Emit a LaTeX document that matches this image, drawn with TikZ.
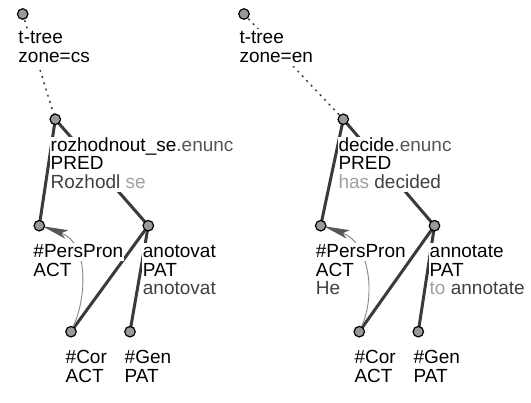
\documentclass[tikz,border=0pt]{standalone}
\usepackage{fontspec}
\setmainfont{Liberation Sans}
\usetikzlibrary{calc}

\definecolor{nodefill}{HTML}{999999}
\definecolor{edgecol}{HTML}{3A3A3A}
\definecolor{corefline}{HTML}{858585}
\definecolor{coreftip}{HTML}{555555}
\definecolor{enuncol}{HTML}{555555}
\definecolor{formcol}{HTML}{404040}
\definecolor{auxcol}{HTML}{A0A0A0}

\pgfdeclarelayer{background}
\pgfsetlayers{background,main}

\setlength{\fboxsep}{0pt}
% one label line on its own white backing box
\newcommand\tline[1]{\hbox{\colorbox{white}{\rule[-3.3pt]{0pt}{18.3pt}\hspace{1pt}#1\hspace{1pt}}}}
% a stack of label lines, baseline at the first line
\newcommand\tstack[1]{\vtop{\baselineskip=18.3pt\lineskip=0pt\lineskiplimit=-20pt #1}}

\begin{document}
\begin{tikzpicture}[x=1pt,y=-1pt,
  tnode/.style={circle,draw=black,fill=nodefill,line width=1.2pt,minimum size=10.5pt,inner sep=0pt},
  edge/.style={draw=edgecol,line width=3pt},
  rootedge/.style={draw=edgecol,line width=1.4pt,dash pattern=on 2pt off 4.5pt},
  coref/.style={draw=corefline,line width=0.9pt},
  coreftipshape/.style={fill=coreftip},
  lbl/.style={anchor=base west,inner sep=0pt,font=\fontsize{19}{18.3}\selectfont}]
\begin{pgfonlayer}{background}
\useasboundingbox[fill=white] (0,0) rectangle (531,403);
\end{pgfonlayer}

% ---- Czech tree: nodes
\node[tnode] (L0) at (22.7,14) {};
\node[tnode] (LP) at (55.3,119.3) {};
\node[tnode] (LA) at (39.3,225.7) {};
\node[tnode] (LB) at (148.3,225.7) {};
\node[tnode] (LC) at (71,331.7) {};
\node[tnode] (LG) at (130,331.7) {};

% ---- English tree: nodes
\node[tnode] (R0) at (244,14) {};
\node[tnode] (RP) at (343.3,119.3) {};
\node[tnode] (RA) at (320.7,225.7) {};
\node[tnode] (RB) at (434.5,225.7) {};
\node[tnode] (RC) at (359.3,331.7) {};
\node[tnode] (RG) at (418.3,331.7) {};

\begin{pgfonlayer}{background}
% ---- edges
\draw[rootedge] (L0.center) -- (LP.center);
\draw[edge] (LP.center) -- (LA.center);
\draw[edge] (LP.center) -- (LB.center);
\draw[edge] (LB.center) -- (LC.center);
\draw[edge] (LB.center) -- (LG.center);

\draw[rootedge] (R0.center) -- (RP.center);
\draw[edge] (RP.center) -- (RA.center);
\draw[edge] (RP.center) -- (RB.center);
\draw[edge] (RB.center) -- (RC.center);
\draw[edge] (RB.center) -- (RG.center);

% ---- coreference arrows: thin curve ending in a long wedge at the antecedent
\coordinate (LAn) at ($(LA)+(22,7.5)$);
\draw[coref] (LC) .. controls ($(LC)+(17,-38)$) and ($(LAn)+(26,9)$) .. (LAn);
\fill[coreftipshape] ($(LA)+(3,0.5)$) -- ($(LA)+(29,4.5)$) -- (LAn) -- ($(LA)+(26,13)$) -- cycle;

\coordinate (RAn) at ($(RA)+(22,7.5)$);
\draw[coref] (RC) .. controls ($(RC)+(17,-38)$) and ($(RAn)+(26,9)$) .. (RAn);
\fill[coreftipshape] ($(RA)+(3,0.5)$) -- ($(RA)+(29,4.5)$) -- (RAn) -- ($(RA)+(26,13)$) -- cycle;

% ---- labels, Czech tree
\node[lbl] (tL0) at (17.3,44) {\tstack{\tline{t-tree}\tline{zone=cs}}};
\node[lbl] (tLP) at (49.5,151.7) {\tstack{\tline{rozhodnout\_se\textcolor{enuncol}{.enunc}}\tline{PRED}\tline{\textcolor{formcol}{Rozhodl} \textcolor{auxcol}{se}}}};
\node[lbl] (tLA) at (32.3,258) {\tstack{\tline{\#PersPron}\tline{ACT}}};
\node[lbl] (tLB) at (141.7,258) {\tstack{\tline{anotovat}\tline{PAT}\tline{\textcolor{formcol}{anotovat}}}};
\node[lbl] (tLC) at (64.5,364) {\tstack{\tline{\#Cor}\tline{ACT}}};
\node[lbl] (tLG) at (123.5,364) {\tstack{\tline{\#Gen}\tline{PAT}}};

% ---- labels, English tree
\node[lbl] (tR0) at (238.3,44) {\tstack{\tline{t-tree}\tline{zone=en}}};
\node[lbl] (tRP) at (337.3,151.7) {\tstack{\tline{decide\textcolor{enuncol}{.enunc}}\tline{PRED}\tline{\textcolor{auxcol}{has} \textcolor{formcol}{decided}}}};
\node[lbl] (tRA) at (314.7,258) {\tstack{\tline{\#PersPron}\tline{ACT}\tline{\textcolor{formcol}{He}}}};
\node[lbl] (tRB) at (428.5,258) {\tstack{\tline{annotate}\tline{PAT}\tline{\textcolor{auxcol}{to} \textcolor{formcol}{annotate}}}};
\node[lbl] (tRC) at (353.3,364) {\tstack{\tline{\#Cor}\tline{ACT}}};
\node[lbl] (tRG) at (412.3,364) {\tstack{\tline{\#Gen}\tline{PAT}}};
\end{pgfonlayer}
\end{tikzpicture}
\end{document}
